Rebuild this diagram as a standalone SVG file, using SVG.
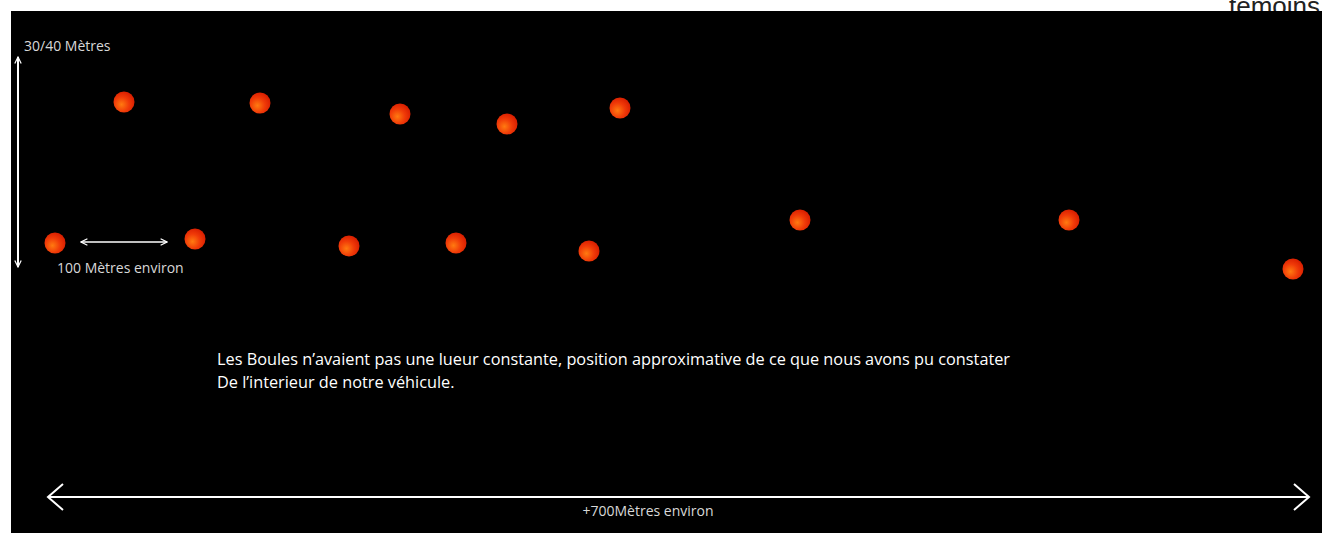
<svg xmlns="http://www.w3.org/2000/svg" width="1322" height="533" viewBox="0 0 1322 533">
<defs>
<radialGradient id="ball" cx="0.38" cy="0.62" r="0.65">
<stop offset="0" stop-color="#ff7a10"/>
<stop offset="0.55" stop-color="#f03a08"/>
<stop offset="1" stop-color="#d81e00"/>
</radialGradient>
<marker id="ah" viewBox="0 0 10 10" refX="9" refY="5" markerWidth="8" markerHeight="8" markerUnits="userSpaceOnUse" orient="auto-start-reverse">
<path d="M1,1 L9,5 L1,9" fill="none" stroke="#ffffff" stroke-width="1.5"/>
</marker>
<marker id="ahBig" viewBox="0 0 20 30" refX="17" refY="15" markerWidth="20" markerHeight="30" markerUnits="userSpaceOnUse" orient="auto-start-reverse">
<path d="M2,2 L17,15 L2,28" fill="none" stroke="#ffffff" stroke-width="2"/>
</marker>
</defs>
<style>
.lbl{font-family:"Open Sans","Noto Sans",sans-serif;fill:#d8d8d8;font-size:14px}
.main{font-family:"Open Sans","Noto Sans",sans-serif;fill:#ffffff;font-size:16.3px}
.ball{fill:url(#ball)}
.ln{stroke:#ffffff;fill:none}
</style>
<rect width="1322" height="533" fill="#ffffff"/>
<text x="1320" y="15" text-anchor="end" font-family="Liberation Sans, Arial, sans-serif" font-size="26" fill="#222222">témoins</text>
<rect x="11" y="11" width="1311" height="522" fill="#000000"/>
<g id="connectors">
<line class="ln" x1="18" y1="57" x2="18" y2="267" stroke-width="2" marker-start="url(#ah)" marker-end="url(#ah)"/>
<line class="ln" x1="81" y1="242" x2="167" y2="242" stroke-width="1.5" marker-start="url(#ah)" marker-end="url(#ah)"/>
<line class="ln" x1="48" y1="497" x2="1309" y2="497" stroke-width="2" marker-start="url(#ahBig)" marker-end="url(#ahBig)"/>
</g>
<g id="labels">
<text class="lbl" x="24" y="51">30/40 Mètres</text>
<text class="lbl" x="57" y="273">100 Mètres environ</text>
<text class="lbl" x="648" y="516" text-anchor="middle">+700Mètres environ</text>
<text class="main" x="217" y="365">Les Boules n’avaient pas une lueur constante, position approximative de ce que nous avons pu constater</text>
<text class="main" x="217" y="388">De l’interieur de notre véhicule.</text>
</g>
<g id="balls">
<circle id="b1" class="ball" cx="124" cy="102" r="10.5"/>
<circle id="b2" class="ball" cx="260" cy="103" r="10.5"/>
<circle id="b3" class="ball" cx="400" cy="114" r="10.5"/>
<circle id="b4" class="ball" cx="507" cy="124" r="10.5"/>
<circle id="b5" class="ball" cx="620" cy="108" r="10.5"/>
<circle id="b6" class="ball" cx="55" cy="243" r="10.5"/>
<circle id="b7" class="ball" cx="195" cy="239" r="10.5"/>
<circle id="b8" class="ball" cx="349" cy="246" r="10.5"/>
<circle id="b9" class="ball" cx="456" cy="243" r="10.5"/>
<circle id="b10" class="ball" cx="589" cy="251" r="10.5"/>
<circle id="b11" class="ball" cx="800" cy="220" r="10.5"/>
<circle id="b12" class="ball" cx="1069" cy="220" r="10.5"/>
<circle id="b13" class="ball" cx="1293" cy="269" r="10.5"/>
</g>
</svg>
